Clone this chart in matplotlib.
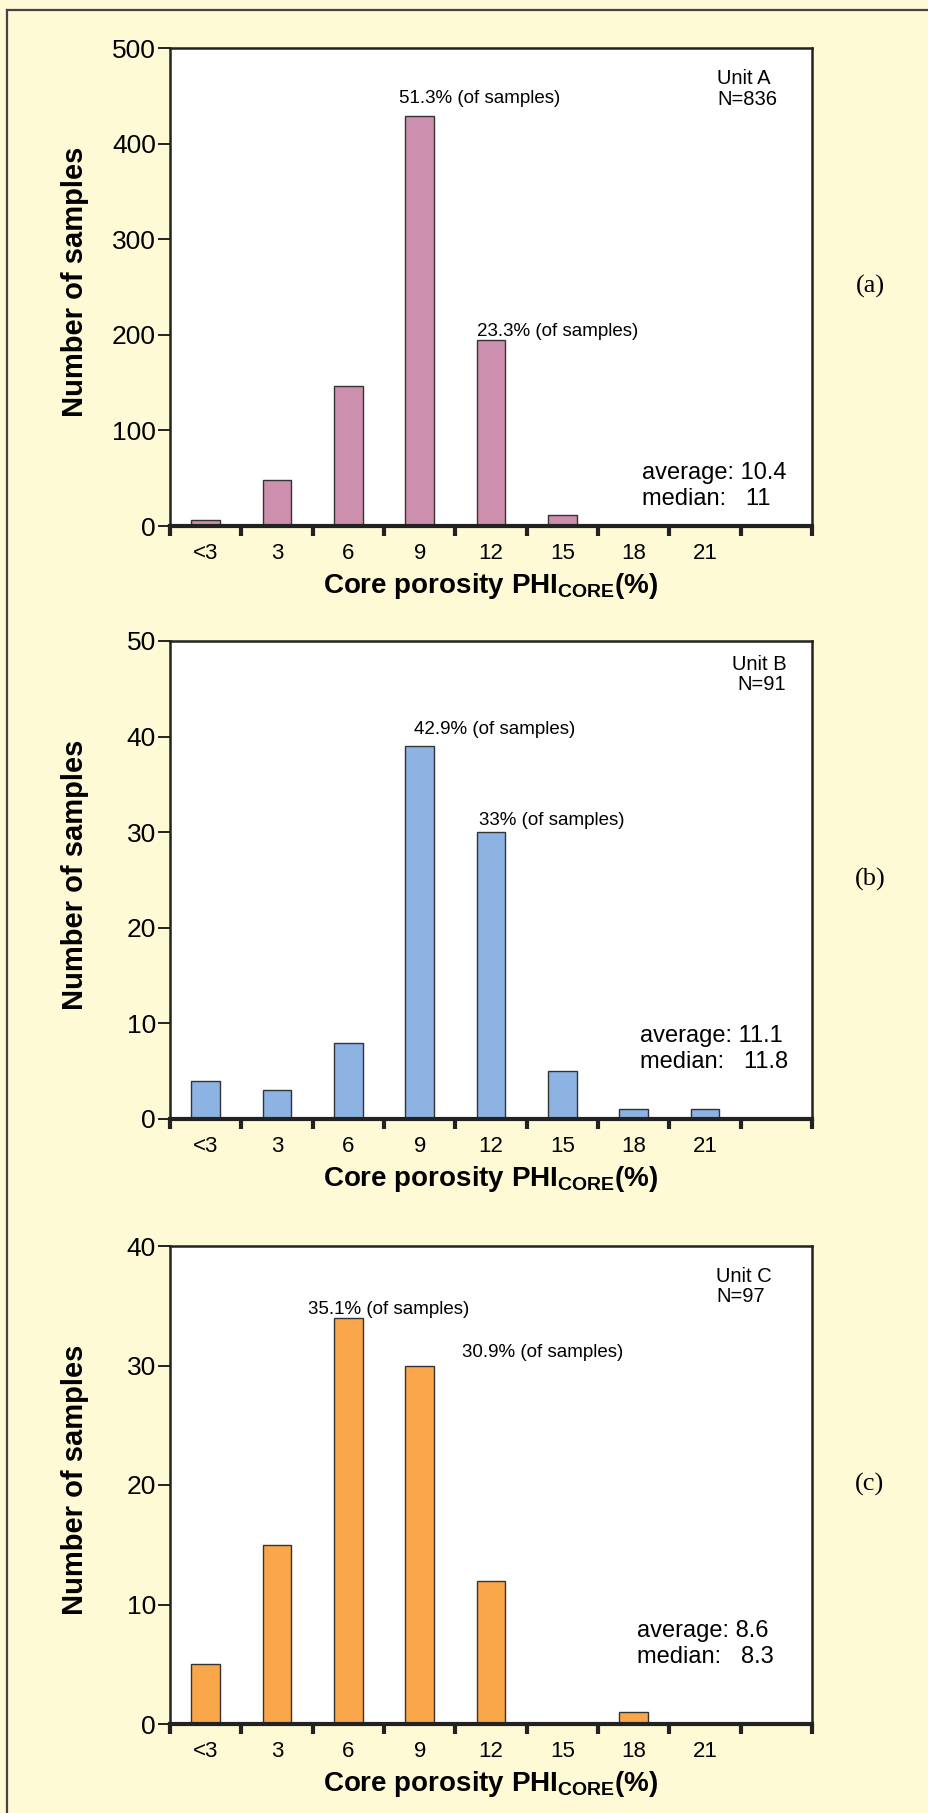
import matplotlib
matplotlib.use('Agg')
import matplotlib.pyplot as plt
from matplotlib.lines import Line2D

plt.rcParams['font.family'] = ['Liberation Sans', 'DejaVu Sans']

# porosity classes (bins of 3 %)
bins = ['<3', '3', '6', '9', '12', '15', '18', '21']

count_a = [6, 48, 146, 429, 195, 11, 1, 0]
count_b = [4, 3, 8, 39, 30, 5, 1, 1]
count_c = [5, 15, 34, 30, 12, 0, 1, 0]

units = ['Unit A\nN=836', 'Unit B\nN=91', 'Unit C\nN=97']
stats = ['average: 10.4\nmedian:   11',
         'average: 11.1\nmedian:   11.8',
         'average: 8.6\nmedian:   8.3']
pct_a = [(3, '51.3% (of samples)'), (4, '23.3% (of samples)')]
pct_b = [(3, '42.9% (of samples)'), (4, '33% (of samples)')]
pct_c = [(2, '35.1% (of samples)'), (3, '30.9% (of samples)')]
letters = ['(a)', '(b)', '(c)']

colors = ['#CC8FAE', '#8DB3E3', '#F9A64B']
bg = '#FFFAD6'

fig = plt.figure(figsize=(9.29, 18.13), dpi=100)
fig.patch.set_facecolor(bg)

# frame of the figure box (only top and left edges show)
fig.add_artist(Line2D([7 / 929, 7 / 929], [0, 1 - 10 / 1813], transform=fig.transFigure,
                      color='#444444', lw=1.6))
fig.add_artist(Line2D([7 / 929, 1], [1 - 10 / 1813, 1 - 10 / 1813], transform=fig.transFigure,
                      color='#444444', lw=1.6))

panels = [
    dict(counts=count_a, ymax=500, step=100, pct=pct_a, pct_dx=[-0.09, 0.0], pct_y=[447, 203],
         unit_xy=(7.67, 457), unit_ha='left', stat_xy=(6.62, 42), bottom=526, color=colors[0]),
    dict(counts=count_b, ymax=50, step=10, pct=pct_b, pct_dx=[0.12, 0.03], pct_y=[40.7, 31.2],
         unit_xy=(8.64, 46.5), unit_ha='right', stat_xy=(6.59, 7.3), bottom=1119, color=colors[1]),
    dict(counts=count_c, ymax=40, step=10, pct=pct_c, pct_dx=[-0.36, 0.80], pct_y=[34.7, 31.1],
         unit_xy=(7.66, 36.6), unit_ha='left', stat_xy=(6.55, 6.7), bottom=1724, color=colors[2]),
]

H = 1813.0
for i, p in enumerate(panels):
    ax = fig.add_axes([170 / 929, 1 - p['bottom'] / H, 642 / 929, 478 / H])
    ax.set_facecolor('white')
    x = [k + 0.5 for k in range(len(p['counts']))]
    ax.bar(x, p['counts'], width=0.4, color=p['color'], edgecolor='#333333', linewidth=1.0)

    ax.set_xlim(0, 9)
    ax.set_ylim(0, p['ymax'])
    ax.set_yticks(range(0, p['ymax'] + 1, p['step']))
    ax.set_xticks(range(0, 10))
    ax.set_xticklabels([])
    ax.set_xticks(x, minor=True)
    ax.set_xticklabels(bins, minor=True)
    ax.tick_params(axis='x', which='major', direction='out', length=7, width=3, color='#222222')
    ax.tick_params(axis='x', which='minor', length=0, pad=12, labelsize=16)
    ax.tick_params(axis='y', direction='out', length=9, width=1.4, pad=1, labelsize=19,
                   color='#222222')

    for s in ['left', 'top', 'right']:
        ax.spines[s].set_linewidth(1.8)
        ax.spines[s].set_color('#222222')
    ax.spines['bottom'].set_linewidth(3)
    ax.spines['bottom'].set_color('#222222')

    ax.set_ylabel('Number of samples', fontsize=21, fontweight='bold', va='center')
    ax.yaxis.set_label_coords(-0.148, 0.51)
    ax.set_xlabel(r'Core porosity PHI$_\mathregular{CORE}$(%)', fontsize=20,
                  fontweight='bold', labelpad=5)

    for (k, label), dx, yy in zip(p['pct'], p['pct_dx'], p['pct_y']):
        ax.text(k + 0.3 + dx, yy, label, fontsize=13.5, ha='left', va='center')

    ax.text(p['unit_xy'][0], p['unit_xy'][1], units[i], fontsize=14.5, ha=p['unit_ha'],
            va='center', multialignment=p['unit_ha'], linespacing=1.1)
    ax.text(p['stat_xy'][0], p['stat_xy'][1], stats[i], fontsize=17, ha='left',
            va='center', linespacing=1.25)

    fig.text(870 / 929, 1 - (p['bottom'] - 240) / H, letters[i], fontsize=19,
             family='Liberation Serif', ha='center', va='center')

fig.savefig('out.png', dpi=100, facecolor=bg)
